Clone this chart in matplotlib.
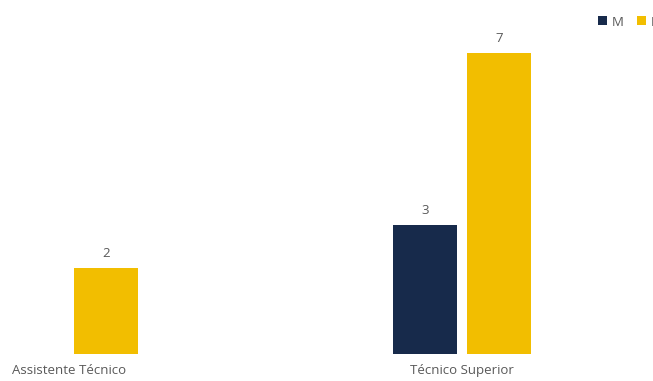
import numpy as np
import matplotlib.pyplot as plt

plt.rcParams['font.family'] = ['Open Sans', 'DejaVu Sans']

categories = ['Assistente Técnico', 'Técnico Superior']
series = ['M', 'F']
values_m = [0, 3]
values_f = [2, 7]
colors = ['#172a4b', '#f2be00']

fig = plt.figure(figsize=(6.53, 3.81), dpi=100)
ax = fig.add_axes([0, 27 / 381, 1, 354 / 381])

x = np.arange(len(categories))
width = 0.163
offset = 0.094

bars_m = ax.bar(x - offset, values_m, width, color=colors[0], label=series[0])
bars_f = ax.bar(x + offset, values_f, width, color=colors[1], label=series[1])

# value labels only where a bar is drawn
for bars, vals in ((bars_m, values_m), (bars_f, values_f)):
    for b, v in zip(bars, vals):
        if v > 0:
            ax.annotate(str(v), (b.get_x() + b.get_width() / 2, v),
                        xytext=(0, 6), textcoords='offset points',
                        ha='center', va='bottom', fontsize=9.5, color='#595959')

ax.set_xlim(-0.175, 1.486)
ax.set_ylim(0, 354 / 43)
ax.set_xticks(x)
ax.set_xticklabels(categories, fontsize=9.5, color='#595959')
ax.tick_params(axis='x', length=0, pad=7.5)
ax.set_yticks([])
for s in ax.spines.values():
    s.set_visible(False)

fig.legend(loc='center left', bbox_to_anchor=(598 / 653, 1 - 22 / 381),
           ncol=2, frameon=False, fontsize=9.5, labelcolor='#595959',
           handlelength=0.65, handleheight=0.65, handletextpad=0.4,
           columnspacing=1.0, borderpad=0, borderaxespad=0)

fig.savefig('out.png', dpi=100)
